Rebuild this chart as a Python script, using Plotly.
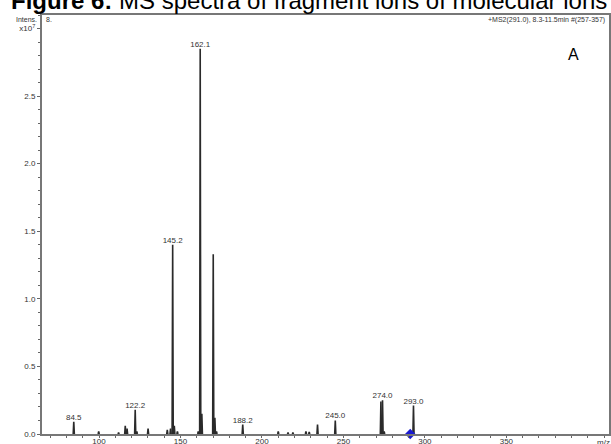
import plotly.graph_objects as go

# Spectrum peaks (m/z, intensity in units of 1e7)
mz = [84.5, 99.8, 112.0, 116.1, 117.2, 122.2, 123.2, 130.1, 141.9, 143.9, 145.2, 146.2, 148.1,
      160.9, 162.1, 163.1, 170.1, 171.1, 172.1, 188.2, 210.0, 216.0, 219.0, 227.0, 229.0,
      234.1, 245.0, 273.0, 274.0, 275.0, 293.0]
intensity = [0.09, 0.02, 0.01, 0.06, 0.04, 0.18, 0.02, 0.04, 0.03, 0.04, 1.40, 0.06, 0.02,
             0.02, 2.85, 0.15, 1.33, 0.12, 0.02, 0.07, 0.02, 0.01, 0.01, 0.02, 0.015,
             0.07, 0.10, 0.24, 0.25, 0.02, 0.21]

# Labelled peaks
label_mz = [84.5, 122.2, 145.2, 162.1, 188.2, 245.0, 274.0, 293.0]
label_int = [0.09, 0.18, 1.40, 2.85, 0.07, 0.10, 0.25, 0.21]
label_text = ["84.5", "122.2", "145.2", "162.1", "188.2", "245.0", "274.0", "293.0"]

precursor_mz = [291.0]
precursor_int = [0.0]

y_tickvals = [0.0, 0.5, 1.0, 1.5, 2.0, 2.5, 3.0]
y_ticktext = ["0.0", "0.5", "1.0", "1.5", "2.0", "2.5", "x10<sup>7</sup>"]
x_tickvals = [100, 150, 200, 250, 300, 350]

xs, ys = [], []
for m, i in zip(mz, intensity):
    xs += [m - 0.35, m, m + 0.35, None]
    ys += [0, i, 0, None]

fig = go.Figure()
fig.add_trace(go.Scatter(x=xs, y=ys, mode="lines",
                         line=dict(color="#2a2a2a", width=1.6),
                         hoverinfo="skip", showlegend=False))
fig.add_trace(go.Scatter(x=label_mz, y=label_int, mode="text", text=label_text,
                         textposition="top center",
                         textfont=dict(family="Liberation Sans, Arial", size=8, color="#333"),
                         showlegend=False))
fig.add_trace(go.Scatter(x=precursor_mz, y=precursor_int, mode="markers",
                         marker=dict(symbol="diamond", size=8, color="#1a1ad0"),
                         cliponaxis=False, showlegend=False))

axis_font = dict(family="Liberation Sans, Arial", size=8, color="#333")
fig.update_xaxes(range=[65, 413], tickvals=x_tickvals, ticks="outside", ticklen=2,
                 tickcolor="#666", tickfont=axis_font, showgrid=False, zeroline=False,
                 showline=True, linecolor="#777", linewidth=2, mirror=True,
                 ticklabelstandoff=-4,
                 minor=dict(dtick=10, tick0=0, ticks="outside", ticklen=2, tickcolor="#666"),
                 automargin=False)
fig.update_yaxes(range=[0, 3.1], tickvals=y_tickvals, ticktext=y_ticktext, ticks="outside",
                 ticklen=3, tickcolor="#666", tickfont=axis_font, showgrid=False,
                 zeroline=False, showline=True, linecolor="#777", linewidth=2, mirror=True,
                 minor=dict(dtick=0.1, tick0=0, ticks="outside", ticklen=2, tickcolor="#666"),
                 automargin=False)

small = dict(family="Liberation Sans, Arial", size=7, color="#333")
fig.update_layout(
    width=611, height=444,
    margin=dict(l=42, r=2, t=15, b=10),
    plot_bgcolor="white", paper_bgcolor="white",
    annotations=[
        dict(text="<b>Figure 6:</b> MS spectra of fragment ions of molecular ions",
             xref="paper", yref="paper", x=-0.058, y=1, xanchor="left", yanchor="bottom",
             yshift=-1, showarrow=False,
             font=dict(family="Liberation Sans, Arial", size=24, color="black")),
        dict(text="Intens.", xref="paper", yref="paper", x=0, y=1, xanchor="right",
             yanchor="top", xshift=-3, yshift=1, showarrow=False, font=small),
        dict(text="8.", xref="paper", yref="paper", x=0, y=1, xanchor="left",
             yanchor="top", xshift=2, yshift=1, showarrow=False, font=small),
        dict(text="+MS2(291.0), 8.3-11.5min #(257-357)", xref="paper", yref="paper",
             x=1, y=1, xanchor="right", yanchor="top", xshift=-2, yshift=1,
             showarrow=False, font=small),
        dict(text="A", xref="paper", yref="paper", x=0.937, y=0.905, xanchor="center",
             yanchor="middle", showarrow=False,
             font=dict(family="Liberation Sans, Arial", size=16, color="black")),
        dict(text="m/z", xref="paper", yref="paper", x=0.99, y=0, xanchor="center",
             yanchor="top", yshift=-2, showarrow=False, font=axis_font),
    ],
)

fig.write_html("out.html")
